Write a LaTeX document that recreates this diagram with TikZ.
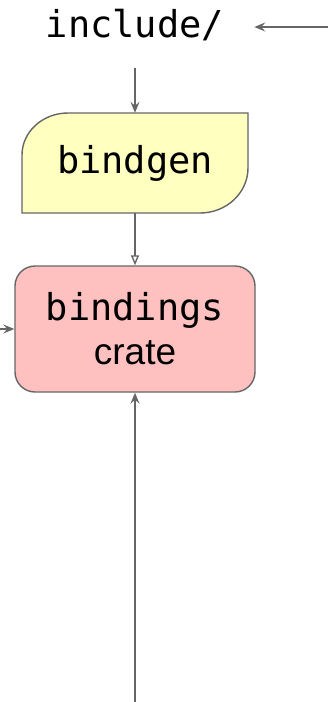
\documentclass[tikz,border=0pt]{standalone}
\usepackage{fontspec}
\setmonofont{DejaVu Sans Mono}
\setsansfont{Liberation Sans}
\usetikzlibrary{positioning,
        shapes,
        arrows.meta}
\usepackage{xcolor}
\definecolor{edgegray}{HTML}{666666}
\definecolor{genyellow}{HTML}{FFFFC0}
\definecolor{cratepink}{HTML}{FFC0C0}

\begin{document}
\begin{tikzpicture}[x=1pt,y=1pt,
        flow/.style={draw=edgegray,line width=1.4pt,-{Stealth[length=11pt,width=9pt,inset=4pt]}},
        feed/.style={draw=edgegray,line width=1.4pt,-{Triangle[open,length=10pt,width=8pt]}},
        codetext/.style={font=\fontsize{37}{44}\selectfont\ttfamily}]
            \useasboundingbox (0,0) rectangle (328,-702);

            % bindgen outline, drawn before its label
            \draw [fill=genyellow,draw=edgegray,line width=1.4pt]
                (22,-213) -- (22,-155) arc[start angle=180,end angle=90,x radius=46,y radius=42]
                -- (248,-113) -- (248,-168) arc[start angle=0,end angle=-90,x radius=48,y radius=45]
                -- cycle;

            \node [codetext,inner xsep=30pt,inner ysep=31pt,text height=27pt,text depth=0pt,anchor=base] (include) at (135,-37) {include/};
            \node [codetext,minimum width=226pt,minimum height=100pt,inner sep=0pt] (bindgen) at (135,-163) {bindgen};
            \node [draw=edgegray,fill=cratepink,line width=1.4pt,rounded corners=20pt,
                   minimum width=240pt,minimum height=126pt,inner sep=0pt,align=center,
                   font=\fontsize{37}{44}\selectfont] (crate) at (135,-329)
                   {\ttfamily bindings\\\fontsize{37}{44}\selectfont\sffamily crate};

            \coordinate (rightin) at (328,-27);
            \coordinate (leftin) at (0,-329);
            \coordinate (bottomin) at (135,-702);

            \draw [flow] (rightin) -- (include.east |- rightin);
            \draw [flow] (include.south) -- (bindgen.north);
            \draw [feed] (bindgen.south) -- (crate.north);
            \draw [flow] (leftin) -- (crate.west);
            \draw [flow] (bottomin) -- (crate.south);
        \end{tikzpicture}
\end{document}
